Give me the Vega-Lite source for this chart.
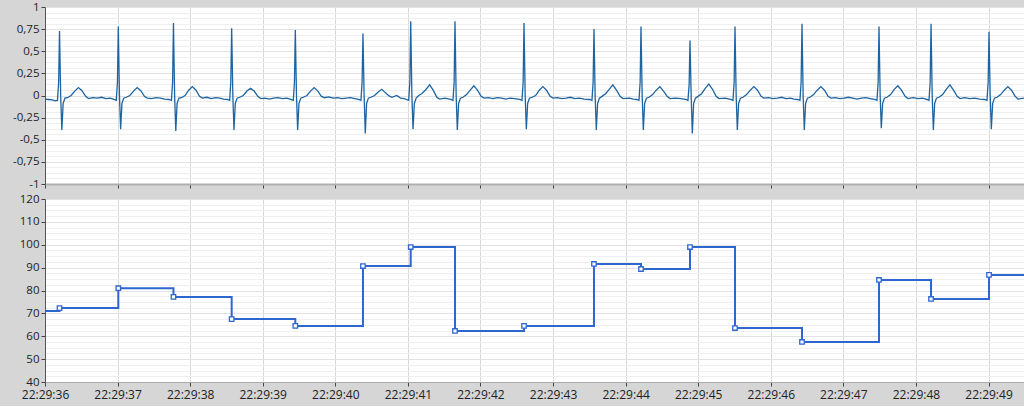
{
  "$schema": "https://vega.github.io/schema/vega-lite/v6.json",
  "padding": {"left": 0, "top": 1, "right": 0, "bottom": 6},
  "background": "#d6d6d6",
  "spacing": 15,
  "bounds": "flush",
  "config": {
    "view": {"fill": "white", "stroke": null},
    "axis": {"labelFont": "Open Sans", "labelFontSize": 11.5, "labelColor": "#222", "domainColor": "#555", "tickColor": "#444", "tickSize": 4, "labelPadding": 2, "labelFlush": false},
    "axisY": {"minExtent": 45, "maxExtent": 45}
  },
  "datasets": {
    "ecg": [
      {"t":36.000,"v":-0.04},{"t":36.050,"v":-0.045},{"t":36.100,"v":-0.05},{"t":36.140,"v":-0.06},{"t":36.172,"v":-0.055},{"t":36.188,"v":0.15},{"t":36.200,"v":0.73},{"t":36.216,"v":0.0},{"t":36.232,"v":-0.39},{"t":36.250,"v":-0.09},{"t":36.275,"v":-0.03},{"t":36.310,"v":-0.025},{"t":36.360,"v":0.0},{"t":36.410,"v":0.05},{"t":36.460,"v":0.09},{"t":36.510,"v":0.055},{"t":36.560,"v":-0.01},{"t":36.600,"v":-0.035},
      {"t":36.660,"v":-0.025},{"t":36.720,"v":-0.03},{"t":36.780,"v":-0.02},{"t":36.840,"v":-0.035},{"t":36.900,"v":-0.03},
      {"t":36.950,"v":-0.045},{"t":36.982,"v":-0.055},{"t":36.998,"v":0.15},{"t":37.010,"v":0.78},{"t":37.026,"v":0.0},{"t":37.042,"v":-0.38},{"t":37.060,"v":-0.09},{"t":37.085,"v":-0.03},{"t":37.120,"v":-0.02},{"t":37.170,"v":0.0},{"t":37.220,"v":0.05},{"t":37.270,"v":0.09},{"t":37.320,"v":0.055},{"t":37.370,"v":-0.01},{"t":37.410,"v":-0.03},
      {"t":37.470,"v":-0.035},{"t":37.530,"v":-0.025},{"t":37.590,"v":-0.03},{"t":37.650,"v":-0.04},
      {"t":37.710,"v":-0.045},{"t":37.742,"v":-0.055},{"t":37.758,"v":0.15},{"t":37.770,"v":0.82},{"t":37.786,"v":0.0},{"t":37.802,"v":-0.40},{"t":37.820,"v":-0.09},{"t":37.845,"v":-0.03},{"t":37.880,"v":-0.025},{"t":37.930,"v":0.0},{"t":37.980,"v":0.06},{"t":38.030,"v":0.10},{"t":38.080,"v":0.06},{"t":38.130,"v":-0.01},{"t":38.170,"v":-0.03},
      {"t":38.230,"v":-0.02},{"t":38.290,"v":-0.035},{"t":38.350,"v":-0.025},{"t":38.410,"v":-0.03},{"t":38.460,"v":-0.04},
      {"t":38.512,"v":-0.045},{"t":38.544,"v":-0.055},{"t":38.560,"v":0.15},{"t":38.572,"v":0.76},{"t":38.588,"v":0.0},{"t":38.604,"v":-0.39},{"t":38.622,"v":-0.09},{"t":38.647,"v":-0.03},{"t":38.682,"v":-0.02},{"t":38.732,"v":0.0},{"t":38.782,"v":0.05},{"t":38.832,"v":0.08},{"t":38.882,"v":0.05},{"t":38.932,"v":-0.01},{"t":38.972,"v":-0.035},
      {"t":39.030,"v":-0.03},{"t":39.090,"v":-0.04},{"t":39.150,"v":-0.03},{"t":39.210,"v":-0.025},{"t":39.270,"v":-0.035},{"t":39.330,"v":-0.03},
      {"t":39.389,"v":-0.045},{"t":39.421,"v":-0.055},{"t":39.437,"v":0.15},{"t":39.449,"v":0.74},{"t":39.465,"v":0.0},{"t":39.481,"v":-0.39},{"t":39.499,"v":-0.09},{"t":39.524,"v":-0.03},{"t":39.559,"v":-0.02},{"t":39.609,"v":0.0},{"t":39.659,"v":0.05},{"t":39.709,"v":0.09},{"t":39.759,"v":0.05},{"t":39.809,"v":-0.01},{"t":39.849,"v":-0.025},
      {"t":39.910,"v":-0.015},{"t":39.970,"v":-0.03},{"t":40.030,"v":-0.025},{"t":40.090,"v":-0.035},{"t":40.150,"v":-0.03},{"t":40.210,"v":-0.025},{"t":40.270,"v":-0.035},
      {"t":40.321,"v":-0.045},{"t":40.353,"v":-0.055},{"t":40.369,"v":0.15},{"t":40.381,"v":0.70},{"t":40.397,"v":0.0},{"t":40.413,"v":-0.43},{"t":40.431,"v":-0.09},{"t":40.456,"v":-0.03},{"t":40.491,"v":-0.02},{"t":40.541,"v":0.0},{"t":40.591,"v":0.04},{"t":40.641,"v":0.07},{"t":40.691,"v":0.03},{"t":40.741,"v":-0.005},{"t":40.780,"v":-0.02},{"t":40.846,"v":0.0},{"t":40.900,"v":-0.03},{"t":40.950,"v":-0.035},
      {"t":40.979,"v":-0.045},{"t":41.011,"v":-0.055},{"t":41.027,"v":0.15},{"t":41.039,"v":0.84},{"t":41.055,"v":0.0},{"t":41.071,"v":-0.38},{"t":41.089,"v":-0.09},{"t":41.114,"v":-0.03},{"t":41.149,"v":0.0},{"t":41.189,"v":0.02},{"t":41.240,"v":0.06},{"t":41.299,"v":0.12},{"t":41.349,"v":0.06},{"t":41.399,"v":-0.02},{"t":41.439,"v":-0.04},
      {"t":41.510,"v":-0.03},
      {"t":41.589,"v":-0.045},{"t":41.621,"v":-0.055},{"t":41.637,"v":0.15},{"t":41.649,"v":0.84},{"t":41.665,"v":0.0},{"t":41.681,"v":-0.39},{"t":41.699,"v":-0.09},{"t":41.724,"v":-0.03},{"t":41.759,"v":-0.02},{"t":41.809,"v":0.01},{"t":41.859,"v":0.06},{"t":41.909,"v":0.11},{"t":41.959,"v":0.06},{"t":42.009,"v":-0.01},{"t":42.049,"v":-0.03},
      {"t":42.110,"v":-0.025},{"t":42.170,"v":-0.035},{"t":42.230,"v":-0.025},{"t":42.290,"v":-0.03},{"t":42.350,"v":-0.04},{"t":42.410,"v":-0.03},{"t":42.470,"v":-0.035},
      {"t":42.540,"v":-0.045},{"t":42.572,"v":-0.055},{"t":42.588,"v":0.15},{"t":42.600,"v":0.82},{"t":42.616,"v":0.0},{"t":42.632,"v":-0.38},{"t":42.650,"v":-0.09},{"t":42.675,"v":-0.03},{"t":42.710,"v":-0.02},{"t":42.760,"v":0.0},{"t":42.810,"v":0.06},{"t":42.860,"v":0.10},{"t":42.910,"v":0.06},{"t":42.960,"v":-0.01},{"t":43.000,"v":-0.03},
      {"t":43.060,"v":-0.025},{"t":43.120,"v":-0.035},{"t":43.180,"v":-0.03},{"t":43.240,"v":-0.02},{"t":43.300,"v":-0.035},{"t":43.360,"v":-0.03},{"t":43.430,"v":-0.04},
      {"t":43.504,"v":-0.045},{"t":43.536,"v":-0.055},{"t":43.552,"v":0.15},{"t":43.564,"v":0.75},{"t":43.580,"v":0.0},{"t":43.596,"v":-0.39},{"t":43.614,"v":-0.09},{"t":43.639,"v":-0.03},{"t":43.674,"v":-0.01},{"t":43.724,"v":0.02},{"t":43.774,"v":0.07},{"t":43.824,"v":0.12},{"t":43.874,"v":0.06},{"t":43.924,"v":-0.01},{"t":43.964,"v":-0.035},
      {"t":44.050,"v":-0.03},{"t":44.110,"v":-0.04},
      {"t":44.152,"v":-0.045},{"t":44.184,"v":-0.055},{"t":44.200,"v":0.15},{"t":44.212,"v":0.78},{"t":44.228,"v":0.0},{"t":44.244,"v":-0.39},{"t":44.262,"v":-0.09},{"t":44.287,"v":-0.03},{"t":44.322,"v":-0.02},{"t":44.372,"v":0.01},{"t":44.422,"v":0.06},{"t":44.472,"v":0.10},{"t":44.522,"v":0.05},{"t":44.572,"v":-0.01},{"t":44.612,"v":-0.035},
      {"t":44.690,"v":-0.03},{"t":44.760,"v":-0.035},
      {"t":44.827,"v":-0.045},{"t":44.859,"v":-0.055},{"t":44.875,"v":0.12},{"t":44.887,"v":0.62},{"t":44.903,"v":0.0},{"t":44.919,"v":-0.43},{"t":44.937,"v":-0.09},{"t":44.962,"v":-0.03},{"t":44.997,"v":-0.01},{"t":45.047,"v":0.02},{"t":45.097,"v":0.08},{"t":45.147,"v":0.13},{"t":45.197,"v":0.07},{"t":45.247,"v":-0.01},{"t":45.287,"v":-0.035},
      {"t":45.370,"v":-0.03},
      {"t":45.447,"v":-0.045},{"t":45.479,"v":-0.055},{"t":45.495,"v":0.15},{"t":45.507,"v":0.78},{"t":45.523,"v":0.0},{"t":45.539,"v":-0.39},{"t":45.557,"v":-0.09},{"t":45.582,"v":-0.03},{"t":45.617,"v":-0.02},{"t":45.667,"v":0.01},{"t":45.717,"v":0.06},{"t":45.767,"v":0.10},{"t":45.817,"v":0.06},{"t":45.867,"v":-0.01},{"t":45.907,"v":-0.03},
      {"t":45.970,"v":-0.025},{"t":46.030,"v":-0.035},{"t":46.090,"v":-0.03},{"t":46.150,"v":-0.02},{"t":46.210,"v":-0.035},{"t":46.270,"v":-0.03},{"t":46.320,"v":-0.04},
      {"t":46.370,"v":-0.045},{"t":46.402,"v":-0.055},{"t":46.418,"v":0.15},{"t":46.430,"v":0.81},{"t":46.446,"v":0.0},{"t":46.462,"v":-0.39},{"t":46.480,"v":-0.09},{"t":46.505,"v":-0.03},{"t":46.540,"v":-0.02},{"t":46.590,"v":0.01},{"t":46.640,"v":0.06},{"t":46.690,"v":0.10},{"t":46.740,"v":0.06},{"t":46.790,"v":-0.01},{"t":46.830,"v":-0.03},
      {"t":46.890,"v":-0.025},{"t":46.950,"v":-0.035},{"t":47.010,"v":-0.03},{"t":47.070,"v":-0.02},{"t":47.130,"v":-0.03},{"t":47.190,"v":-0.04},{"t":47.250,"v":-0.03},{"t":47.310,"v":-0.025},{"t":47.370,"v":-0.035},
      {"t":47.431,"v":-0.045},{"t":47.463,"v":-0.055},{"t":47.479,"v":0.15},{"t":47.491,"v":0.78},{"t":47.507,"v":0.0},{"t":47.523,"v":-0.37},{"t":47.541,"v":-0.09},{"t":47.566,"v":-0.03},{"t":47.601,"v":-0.02},{"t":47.651,"v":0.01},{"t":47.701,"v":0.07},{"t":47.751,"v":0.11},{"t":47.801,"v":0.06},{"t":47.851,"v":-0.01},{"t":47.891,"v":-0.035},
      {"t":47.960,"v":-0.025},{"t":48.030,"v":-0.035},{"t":48.090,"v":-0.03},
      {"t":48.148,"v":-0.045},{"t":48.180,"v":-0.055},{"t":48.196,"v":0.15},{"t":48.208,"v":0.81},{"t":48.224,"v":0.0},{"t":48.240,"v":-0.39},{"t":48.258,"v":-0.09},{"t":48.283,"v":-0.03},{"t":48.318,"v":-0.02},{"t":48.368,"v":0.01},{"t":48.418,"v":0.07},{"t":48.468,"v":0.12},{"t":48.518,"v":0.06},{"t":48.568,"v":-0.01},{"t":48.608,"v":-0.035},
      {"t":48.670,"v":-0.025},{"t":48.740,"v":-0.035},{"t":48.810,"v":-0.03},{"t":48.880,"v":-0.04},
      {"t":48.947,"v":-0.045},{"t":48.979,"v":-0.055},{"t":48.995,"v":0.15},{"t":49.007,"v":0.72},{"t":49.023,"v":0.0},{"t":49.039,"v":-0.38},{"t":49.057,"v":-0.09},{"t":49.082,"v":-0.03},{"t":49.117,"v":-0.02},{"t":49.167,"v":0.01},{"t":49.217,"v":0.06},{"t":49.267,"v":0.10},{"t":49.317,"v":0.06},{"t":49.367,"v":-0.01},{"t":49.407,"v":-0.04},{"t":49.489,"v":-0.03}
    ],
    "hr": [
      {"t":36.000,"hr":71.0},{"t":36.200,"hr":72.3},{"t":37.010,"hr":81.0},{"t":37.770,"hr":77.2},{"t":38.572,"hr":67.5},{"t":39.449,"hr":64.5},{"t":40.381,"hr":90.7},{"t":41.039,"hr":99.0},{"t":41.649,"hr":62.3},{"t":42.600,"hr":64.5},{"t":43.564,"hr":91.6},{"t":44.212,"hr":89.4},{"t":44.887,"hr":99.0},{"t":45.507,"hr":63.6},{"t":46.430,"hr":57.5},{"t":47.491,"hr":84.6},{"t":48.208,"hr":76.3},{"t":49.007,"hr":86.8},{"t":49.489,"hr":86.8}
    ]
  },
  "vconcat": [
    {
      "width": 979,
      "height": 177,
      "data": {"name": "ecg"},
      "mark": {"type": "line", "color": "#1d64a3", "strokeWidth": 1.3, "clip": true},
      "encoding": {
        "x": {"field": "t", "type": "quantitative", "scale": {"domain": [36, 49.489], "nice": false, "zero": false},
          "axis": {"values": [36,37,38,39,40,41,42,43,44,45,46,47,48,49], "labels": false, "title": null, "gridColor": "#d9d9d9", "domainColor": "#b0b0b0", "domainWidth": 2}},
        "y": {"field": "v", "type": "quantitative", "scale": {"domain": [-1, 1], "nice": false},
          "axis": {"values": [-1,-0.9375,-0.875,-0.8125,-0.75,-0.6875,-0.625,-0.5625,-0.5,-0.4375,-0.375,-0.3125,-0.25,-0.1875,-0.125,-0.0625,0,0.0625,0.125,0.1875,0.25,0.3125,0.375,0.4375,0.5,0.5625,0.625,0.6875,0.75,0.8125,0.875,0.9375,1],
            "title": null,
            "labelExpr": "datum.value % 0.25 === 0 ? replace(toString(datum.value), '.', ',') : ''",
            "tickOpacity": {"condition": {"test": "datum.value % 0.25 === 0", "value": 1}, "value": 0},
            "gridColor": {"condition": {"test": "datum.value % 0.25 === 0", "value": "#e2e2e2"}, "value": "#efefef"}}}
      }
    },
    {
      "width": 979,
      "height": 183,
      "data": {"name": "hr"},
      "encoding": {
        "x": {"field": "t", "type": "quantitative", "scale": {"domain": [36, 49.489], "nice": false, "zero": false},
          "axis": {"values": [36,37,38,39,40,41,42,43,44,45,46,47,48,49], "title": null, "labelExpr": "'22:29:' + datum.value", "labelPadding": 3, "labelFontSize": 12, "gridColor": "#d9d9d9", "domainColor": "#aaaaaa"}},
        "y": {"field": "hr", "type": "quantitative", "scale": {"domain": [40, 120], "nice": false, "zero": false},
          "axis": {"values": [40,42.5,45,47.5,50,52.5,55,57.5,60,62.5,65,67.5,70,72.5,75,77.5,80,82.5,85,87.5,90,92.5,95,97.5,100,102.5,105,107.5,110,112.5,115,117.5,120],
            "title": null,
            "labelExpr": "datum.value % 10 === 0 ? toString(datum.value) : ''",
            "tickOpacity": {"condition": {"test": "datum.value % 10 === 0", "value": 1}, "value": 0},
            "gridColor": {"condition": {"test": "datum.value % 10 === 0", "value": "#e2e2e2"}, "value": "#efefef"}}}
      },
      "layer": [
        {"mark": {"type": "line", "interpolate": "step-after", "color": "#2d66cf", "strokeWidth": 2, "clip": true}},
        {"transform": [{"filter": "datum.t > 36.01 && datum.t < 49.4"}],
         "mark": {"type": "point", "shape": "square", "filled": false, "size": 20, "color": "#2d66cf", "fill": "#ffffff", "fillOpacity": 1, "strokeWidth": 1.3, "opacity": 1}}
      ]
    }
  ]
}
